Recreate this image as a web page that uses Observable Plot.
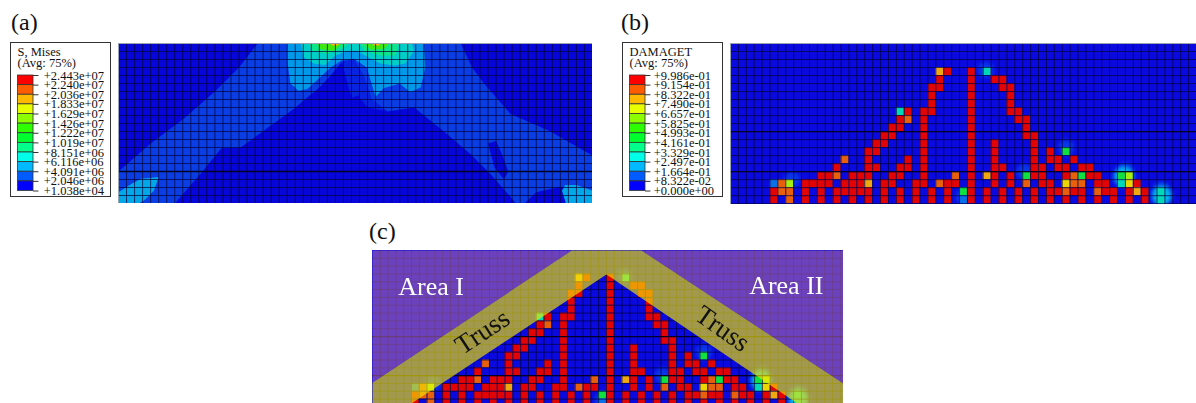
<!DOCTYPE html>
<html>
<head>
<meta charset="utf-8">
<script src="https://cdn.jsdelivr.net/npm/d3@7"></script>
<script src="https://cdn.jsdelivr.net/npm/@observablehq/plot@0.6"></script>
<style>
html,body{margin:0;padding:0;background:#fff}
#page{position:relative;width:1196px;height:403px;overflow:hidden;font-family:"Liberation Serif",serif}
#page svg{position:absolute;display:block;max-width:none}
.mesh{filter:blur(0.45px)}
.tag{position:absolute;font-size:24px;line-height:24px;color:#111}
</style>
</head>
<body>
<div id="page"></div>
<script>
// ---------- legends ----------
const legendColors = ["#ff0000","#ff5c00","#ffb900","#e8ff00","#8cff00","#2eff00","#00ff2e","#00ff8b","#00ffe8","#00b9ff","#005cff","#0000ff"];
const misesLabels = ["+2.443e+07","+2.240e+07","+2.036e+07","+1.833e+07","+1.629e+07","+1.426e+07","+1.222e+07","+1.019e+07","+8.151e+06","+6.116e+06","+4.091e+06","+2.046e+06","+1.038e+04"];
const damageLabels = ["+9.986e-01","+9.154e-01","+8.322e-01","+7.490e-01","+6.657e-01","+5.825e-01","+4.993e-01","+4.161e-01","+3.329e-01","+2.497e-01","+1.664e-01","+8.322e-02","+0.000e+00"];

// ---------- panel (a): Mises stress bands, [column, row] outlines ----------
const band1 = [[0,16],[4,12.5],[8,9.5],[12,6],[15,3],[17.3,0],[42.6,0],[44,3],[45.5,5],[48.8,8.8],[53.6,10.9],[59,14],[59,18.4],[55,17.9],[52,18.6],[50.5,20],[49.5,20],[48.8,19.2],[46.3,16.3],[43.8,13.8],[40.5,11],[36.8,8],[33.5,8.5],[31.5,7],[30.5,4],[29.3,2],[27.8,2.3],[26.4,4],[25,5.5],[21.8,8.2],[15.2,13],[12.8,13.1],[10.2,16.3],[7.7,19.2],[7,20],[0,20]];
const pocket = [[46,12.5],[47,12.2],[47.8,14],[48.5,16],[48,17],[46.8,15.5]];
const apexShade = [[27.8,2.3],[29.3,2],[30.5,4],[31.5,7],[33.5,8.5],[31,8],[29.8,6.5],[29,6.8],[28.3,4.2]];
const band2 = [[21,0],[21,2.1],[21.4,5],[22.4,5.9],[23.5,5.7],[24.7,4.6],[26.4,3],[27.8,2.1],[29.3,1.9],[30.9,3],[31.5,5],[32,6.7],[33,5.6],[35,5],[36.3,6.1],[37.6,5.5],[38.2,3],[38,0]];
const spotLeft = [[0,18.6],[1.7,17.5],[2.8,16.9],[5,16.7],[4.4,18.4],[3.2,19.6],[2.5,20],[0,20]];
const spotRight = [[55.2,18.4],[55.6,17.7],[57,17.7],[59,18.4],[59,20],[55.7,20]];
const band3 = [[22.7,0],[23,1.7],[24.3,2.5],[25.7,2.7],[27,1.5],[28.5,0.9],[29.7,0.9],[31,1.7],[32.6,2.5],[34.3,2.75],[35.7,2.5],[36.8,0.9],[36.5,0]];
const band4Left = [[23.7,0],[24.1,0.9],[26,1.3],[27.8,0.7],[28.7,0]];
const band4Right = [[30,0],[30.6,0.9],[32.6,1.5],[34.5,1.5],[34.9,0]];
const band5Left = [[24.7,0],[25.1,0.7],[26.8,0.9],[27.8,0]];
const band5Right = [[30.5,0],[31.4,0.75],[33,0.7],[33.7,0]];
const peakLeft = [[26.3,0],[26.6,0.25],[27.3,0.25],[27.5,0]];
const peakRight = [[31.6,0],[31.8,0.25],[32.4,0.25],[32.6,0]];

// ---------- panels (b),(c): damaged elements, columns per row ----------
const redByRow = [
  [],[],[],
  [27,30],
  [26,30,33,34],
  [25,26,30,34,35],
  [25,30,35],
  [25,30,35],
  [22,24,25,30,35,36],
  [21,24,30,36,37],
  [20,21,24,30,37],
  [19,20,24,30,37,38],
  [18,19,24,30,33,38],
  [17,18,24,30,33,38,40],
  [17,22,24,30,33,38,40,41,43],
  [13,17,18,21,22,24,30,33,34,38,39,41,42,44,45],
  [11,12,15,16,17,20,21,24,30,33,35,38,39,42,45,46],
  [9,10,11,12,14,15,16,19,20,23,24,27,28,30,33,35,39,40,46,47,51],
  [5,9,11,13,14,15,16,17,19,21,23,25,27,30,32,34,36,38,40,41,43,44,47,48,50,52],
  [5,9,11,13,15,17,19,21,23,25,27,30,32,34,36,38,40,42,44,46,48,50,52]
];
// [column, row, damage class]
const partialCells = [
  [26,3,"amber"],[32,3,"teal"],[21,8,"teal"],[22,9,"orange"],[42,13,"green"],[14,14,"orange"],
  [13,16,"orange"],[28,16,"orange"],[32,16,"amber"],[37,16,"green"],[43,16,"orange"],[44,16,"green"],[49,16,"green"],[50,16,"lime"],
  [5,17,"sky"],[6,17,"orange"],[7,17,"lime"],[17,17,"amber"],[26,17,"orange"],[37,17,"orange"],[42,17,"yellow"],[43,17,"orange"],[44,17,"orange"],[49,17,"teal"],[50,17,"yellow"],
  [6,18,"orange"],[7,18,"orange"],[29,18,"green"],[42,18,"orange"],[46,18,"orange"],[51,18,"amber"],
  [7,19,"orange"],[54,18,"teal"],[54,19,"teal"],[29,19,"sky"]
];
const partialClasses = ["sky","teal","green","lime","yellow","amber","orange"];
const partialFills = ["#0a70e8","#00d8b8","#10e040","#a8ee10","#ecd800","#efa810","#e8600c"];
// element centres that carry a soft halo
const halos = [[32.3,3.3],[42.5,13],[37.2,16],[50,15.8],[54.6,18.2],[29.5,19.2],[7.8,17]];
const cyanHalos = [[49.8,16.6],[54.6,19]];

// ---------- panel (c) overlays and labels ----------
const trussBand = [[0,16.9],[25.55,0],[34.5,0],[60.4,17],[60.4,19.56],[54.5,19.56],[30,3.07],[5,19.56],[0,19.56]];
const areaOne = [[0,0],[25.55,0],[0,16.9]];
const areaTwo = [[34.5,0],[60.4,0],[60.4,17]];
const areaLabels = [{t:"Area I",col:3.3,row:4.6},{t:"Area II",col:48.3,row:4.5}];
const trussLabels = [{t:"Truss",col:14.1,row:10.4,a:-33.5},{t:"Truss",col:44.9,row:10,a:35}];

const page = document.getElementById("page");
const FONT = '"Liberation Serif", serif';

function place(svg, left, top, cls) {
  svg.style.left = left + "px";
  svg.style.top = top + "px";
  svg.style.background = "none";
  if (cls) svg.classList.add(cls);
  page.appendChild(svg);
  return svg;
}
const poly = (pts, fill) => Plot.line(pts, {x: d => d[0], y: d => d[1], fill, stroke: "none", curve: "linear-closed"});

function frameOpts(width, height, cols, rows, marks) {
  return {
    width, height, margin: 0,
    x: {domain: [0, cols], axis: null},
    y: {domain: [0, rows], reverse: true, axis: null},
    style: {fontFamily: FONT, background: "none", overflow: "hidden"},
    marks
  };
}
function meshLines(cols, rows, heavy) {
  const stroke = "#03033c";
  return [
    Plot.ruleX(d3.range(1, Math.ceil(cols)), {stroke, strokeOpacity: 0.8, strokeWidth: 0.9}),
    Plot.ruleY(d3.range(1, Math.ceil(rows)), {stroke, strokeOpacity: 0.8, strokeWidth: 0.9}),
    Plot.ruleY(heavy, {stroke: "#000020", strokeOpacity: 0.9, strokeWidth: 1.3})
  ];
}
function damageMarks(cols, rows) {
  const red = redByRow.flatMap((list, row) => list.map(col => ({col, row})));
  return [
    Plot.rect([0], {x1: () => 0, x2: () => cols, y1: () => 0, y2: () => rows, fill: "#0a0ae0"}),
    Plot.dot(halos, {x: d => d[0], y: d => d[1], r: 8, fill: "#0a5cf0", fillOpacity: 0.55, stroke: "none", imageFilter: "blur(2px)"}),
    Plot.dot(cyanHalos, {x: d => d[0], y: d => d[1], r: 10, fill: "#00c8f0", fillOpacity: 0.9, stroke: "none", imageFilter: "blur(2px)"}),
    Plot.rect(red, {x1: "col", x2: d => d.col + 1, y1: "row", y2: d => d.row + 1, fill: "#e20404"}),
    Plot.rect(partialCells, {x1: d => d[0], x2: d => d[0] + 1, y1: d => d[1], y2: d => d[1] + 1, fill: d => partialFills[partialClasses.indexOf(d[2])]})
  ];
}
function legend(left, top, title, labels, labelX) {
  const levels = d3.range(legendColors.length);
  const svg = Plot.plot({
    width: 101, height: 155,
    marginLeft: 7.5, marginRight: 78, marginTop: 33, marginBottom: 6.5,
    x: {domain: [0, 1], axis: null},
    y: {domain: [0, 12], reverse: true, axis: null},
    style: {fontFamily: FONT, background: "#fff", overflow: "hidden", color: "#111"},
    marks: [
      Plot.rect(levels, {x1: () => 0, x2: () => 1, y1: d => d, y2: d => d + 1, fill: d => legendColors[d], stroke: "#333", strokeWidth: 0.8}),
      Plot.ruleY(labels.map((_, i) => i), {x1: 1, x2: 1.35, stroke: "#333", strokeWidth: 1}),
      Plot.text(labels, {x: () => labelX, y: (d, i) => i, text: d => d, textAnchor: "start", fontSize: 12.5, fill: "#111"}),
      Plot.text(title, {x: () => -0.03, y: (d, i) => -2.4 + i * 1.14, text: d => d, textAnchor: "start", fontSize: 12.5, fill: "#111"})
    ]
  });
  svg.style.outline = "1.5px solid #333";
  svg.style.outlineOffset = "-1.5px";
  place(svg, left, top);
}
function tag(text, left, top) {
  const d = document.createElement("div");
  d.className = "tag";
  d.style.left = left + "px";
  d.style.top = top + "px";
  d.textContent = text;
  page.appendChild(d);
}

// Panel (a)
place(Plot.plot(frameOpts(474, 160, 59, 20, [
  Plot.rect([0], {x1: () => 0, x2: () => 59, y1: () => 0, y2: () => 20, fill: "#0606da"}),
  poly(band1, "#0a3ee4"),
  poly(pocket, "#0606da"),
  poly(apexShade, "#0824e0"),
  poly(band2, "#0098e8"),
  poly(spotLeft, "#00a8e8"),
  poly(spotRight, "#00a8e8"),
  poly(band3, "#00cfc8"),
  poly(band4Left, "#0ce58a"),
  poly(band4Right, "#0ce58a"),
  poly(band5Left, "#40e810"),
  poly(band5Right, "#40e810"),
  poly(peakLeft, "#f0b800"),
  poly(peakRight, "#f0b800"),
  ...meshLines(59, 20, [16]),
  Plot.frame({stroke: "#9aa3b0", strokeWidth: 1})
])), 118, 43, "mesh");

// Panel (b)
place(Plot.plot(frameOpts(466, 161, 59, 20.1, [
  ...damageMarks(59, 20.1),
  ...meshLines(59, 20.1, [11, 16]),
  Plot.frame({stroke: "#9aa3b0", strokeWidth: 1})
])), 730, 43, "mesh");

// Panel (c)
place(Plot.plot(frameOpts(471, 153, 60.4, 19.56, [
  ...damageMarks(60.4, 19.56),
  ...meshLines(60.4, 19.56, [11, 16]),
  poly(areaOne, "rgba(170,100,170,0.62)"),
  poly(areaTwo, "rgba(170,100,170,0.62)"),
  poly(trussBand, "rgba(245,231,2,0.65)"),
  Plot.text(areaLabels, {x: "col", y: "row", text: "t", textAnchor: "start", fontSize: 26, fill: "#fff"}),
  Plot.text(trussLabels, {x: "col", y: "row", text: "t", rotate: "a", fontSize: 27, fill: "#111"})
])), 372, 250, "mesh");

legend(10, 42, ["S, Mises", "(Avg: 75%)"], misesLabels, 1.66);
legend(622, 42, ["DAMAGET", "(Avg: 75%)"], damageLabels, 1.53);

tag("(a)", 11, 10);
tag("(b)", 621, 10);
tag("(c)", 369, 219);
</script>
</body>
</html>
